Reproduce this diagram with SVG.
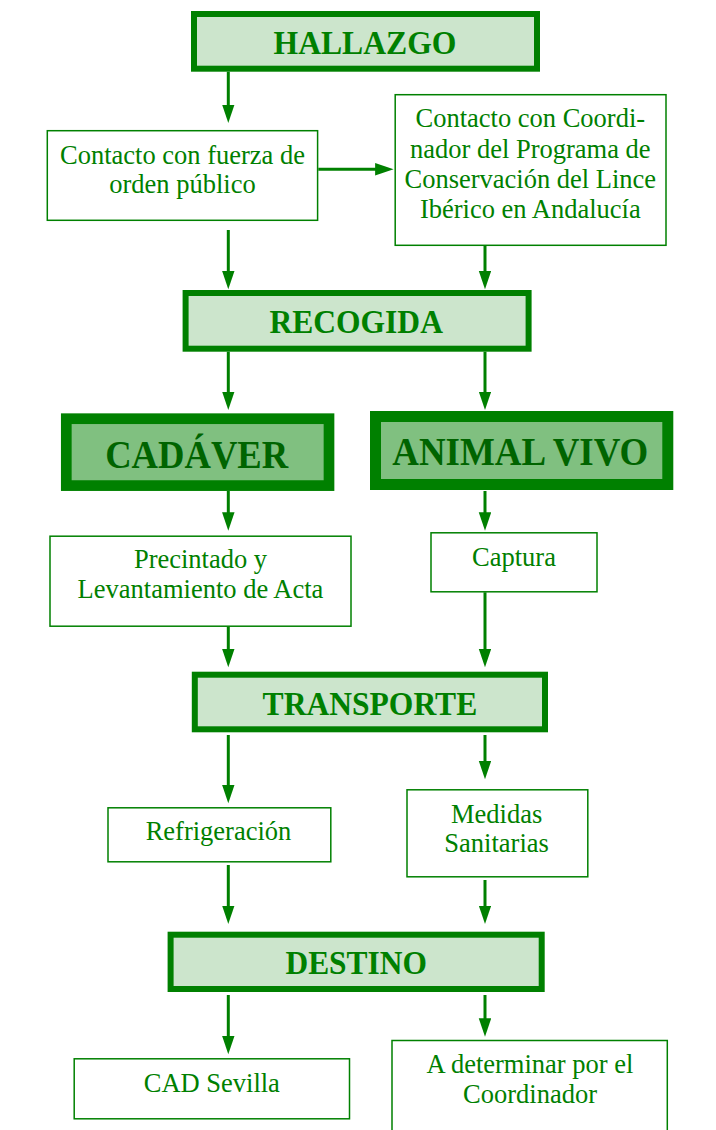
<svg xmlns="http://www.w3.org/2000/svg" width="716" height="1130" viewBox="0 0 716 1130">
<style>
.bg{fill:#ffffff}
.head rect{fill:#cce5cc;stroke:#008000;stroke-width:6}
.big rect{fill:#80c080;stroke:#008000}
.box rect{fill:#ffffff;stroke:#008000;stroke-width:1.5}
text{font-family:"Liberation Serif","Times New Roman",serif;text-anchor:middle;fill:#008000}
.head text{font-size:33.5px;font-weight:bold}
.big text{font-weight:bold;fill:#006400}
.box text{font-size:26.5px}
#connectors line{stroke:#008000;stroke-width:3;marker-end:url(#ah)}
</style>
<defs>
<marker id="ah" markerUnits="userSpaceOnUse" markerWidth="19" markerHeight="13" refX="8.5" refY="6.25" orient="auto">
<path d="M0,0 L18.5,6.25 L0,12.5 z" fill="#008000"/>
</marker>
</defs>
<rect class="bg" x="0" y="0" width="716" height="1130"/>
<g id="connectors">
<line x1="228.3" y1="71.7" x2="228.3" y2="113"/>
<line x1="318.3" y1="169.3" x2="383.6" y2="169.3"/>
<line x1="228.3" y1="230" x2="228.3" y2="279.3"/>
<line x1="485" y1="246" x2="485" y2="279.3"/>
<line x1="228.3" y1="351.7" x2="228.3" y2="400"/>
<line x1="485" y1="351.7" x2="485" y2="400"/>
<line x1="228.3" y1="491" x2="228.3" y2="520.7"/>
<line x1="485" y1="491" x2="485" y2="520.7"/>
<line x1="228.3" y1="626.7" x2="228.3" y2="657.3"/>
<line x1="485" y1="592.3" x2="485" y2="657.3"/>
<line x1="228.3" y1="735" x2="228.3" y2="793.3"/>
<line x1="485" y1="735" x2="485" y2="769.3"/>
<line x1="228.3" y1="865" x2="228.3" y2="914"/>
<line x1="485" y1="880" x2="485" y2="914"/>
<line x1="228.3" y1="995" x2="228.3" y2="1044.3"/>
<line x1="485" y1="995" x2="485" y2="1026.7"/>
</g>
<g id="hallazgo" class="head">
<rect x="194" y="14" width="343" height="54.7"/>
<text x="365" y="54" textLength="183" lengthAdjust="spacingAndGlyphs">HALLAZGO</text>
</g>
<g id="fuerza" class="box">
<rect x="47.3" y="130.7" width="270.3" height="89.6"/>
<text x="182.5" y="164">Contacto con fuerza de</text>
<text x="182.5" y="193.3">orden público</text>
</g>
<g id="coordinador" class="box">
<rect x="395.2" y="94.7" width="270.8" height="150.6"/>
<text x="530.3" y="127.3">Contacto con Coordi-</text>
<text x="530.3" y="157.7">nador del Programa de</text>
<text x="530.3" y="187.7">Conservación del Lince</text>
<text x="530.3" y="218.3">Ibérico en Andalucía</text>
</g>
<g id="recogida" class="head">
<rect x="185.6" y="293" width="343" height="55.7"/>
<text x="356.2" y="333.3" textLength="173.5" lengthAdjust="spacingAndGlyphs">RECOGIDA</text>
</g>
<g id="cadaver" class="big">
<rect x="66.3" y="418.7" width="262.7" height="66.9" style="stroke-width:10.7"/>
<text x="196.7" y="468.3" style="font-size:39px" textLength="183" lengthAdjust="spacingAndGlyphs">CADÁVER</text>
</g>
<g id="animalvivo" class="big">
<rect x="375.5" y="416.5" width="292.3" height="68" style="stroke-width:11"/>
<text x="520.3" y="465" style="font-size:40px" textLength="256" lengthAdjust="spacingAndGlyphs">ANIMAL VIVO</text>
</g>
<g id="precintado" class="box">
<rect x="50" y="536.2" width="301" height="90"/>
<text x="200.5" y="568.3">Precintado y</text>
<text x="200.5" y="598.3">Levantamiento de Acta</text>
</g>
<g id="captura" class="box">
<rect x="431" y="532.8" width="166" height="59"/>
<text x="514" y="566">Captura</text>
</g>
<g id="transporte" class="head">
<rect x="194.8" y="674.7" width="350.2" height="54.6"/>
<text x="369.9" y="715" textLength="214.6" lengthAdjust="spacingAndGlyphs">TRANSPORTE</text>
</g>
<g id="refrigeracion" class="box">
<rect x="108" y="807.8" width="222.8" height="54"/>
<text x="218.5" y="840">Refrigeración</text>
</g>
<g id="medidas" class="box">
<rect x="407" y="789.8" width="180.8" height="87"/>
<text x="496.6" y="822.7">Medidas</text>
<text x="496.6" y="852.3">Sanitarias</text>
</g>
<g id="destino" class="head">
<rect x="170.6" y="934.7" width="371.1" height="54.3"/>
<text x="356.2" y="974.3" textLength="141.5" lengthAdjust="spacingAndGlyphs">DESTINO</text>
</g>
<g id="cadsevilla" class="box">
<rect x="74.2" y="1058.8" width="275.3" height="60"/>
<text x="211.8" y="1091.7">CAD Sevilla</text>
</g>
<g id="determinar" class="box">
<rect x="392" y="1040.5" width="275.3" height="100"/>
<text x="530" y="1073.3">A determinar por el</text>
<text x="530" y="1103.3">Coordinador</text>
</g>
</svg>
